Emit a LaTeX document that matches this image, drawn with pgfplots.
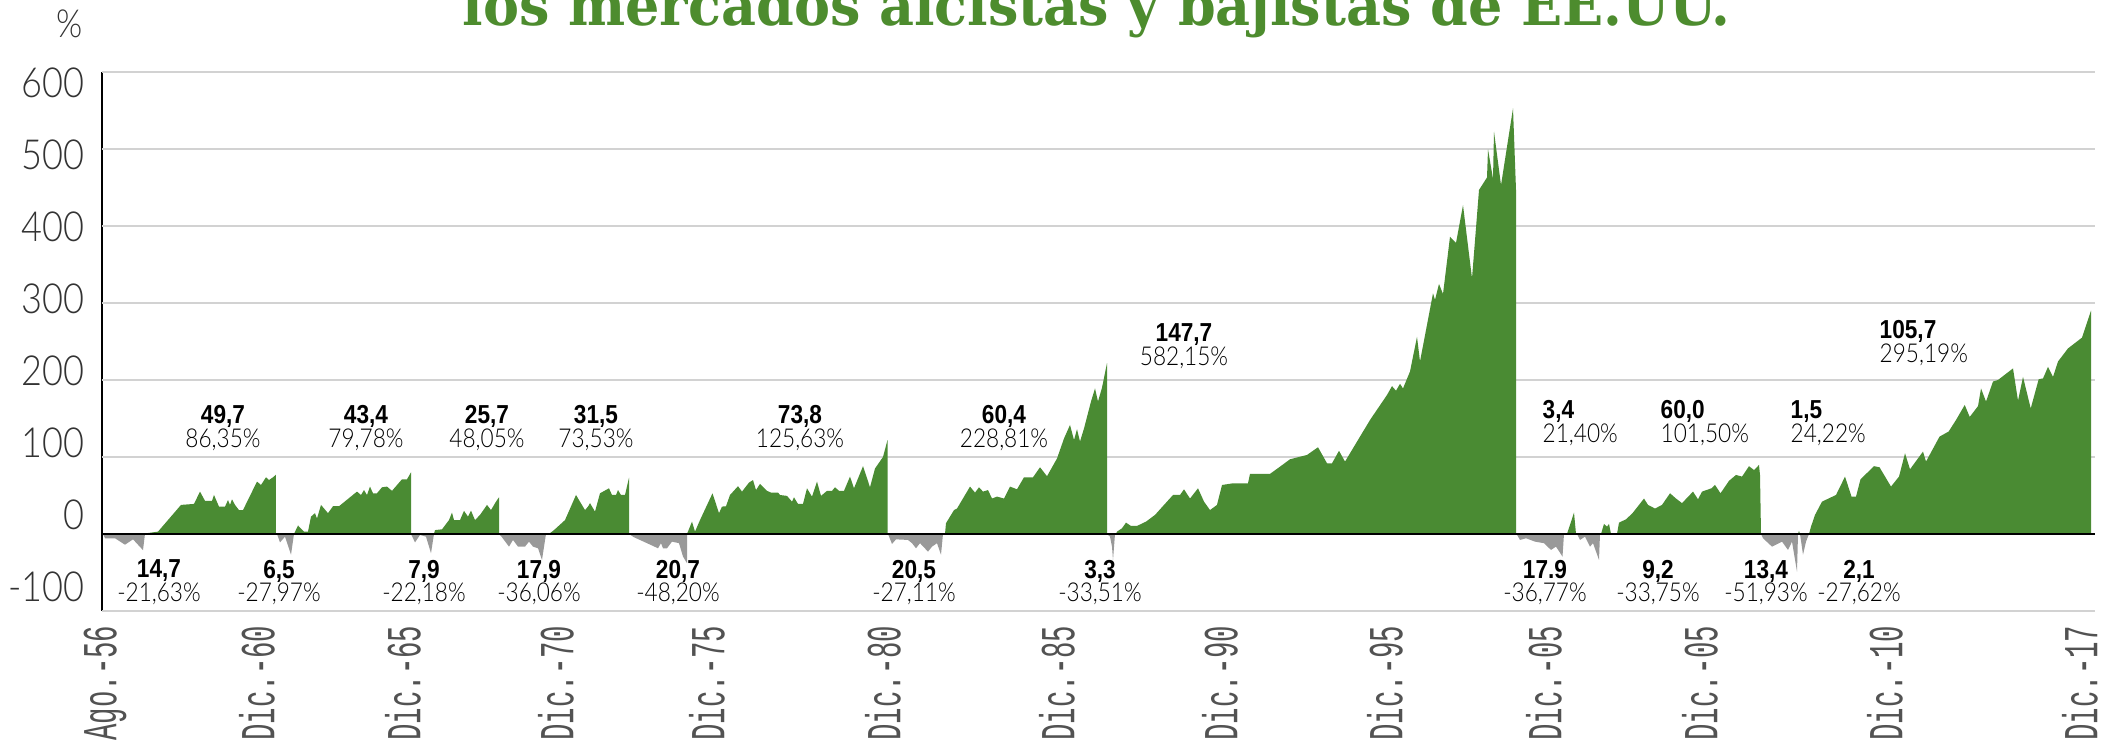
\documentclass[border=0pt]{standalone}
\usepackage{graphicx}
\usepackage{pgfplots}
\pgfplotsset{compat=1.18}
\usepackage{pgfplotstable}
\usepackage{fontspec}
\setmainfont{Liberation Sans}
\newfontfamily\annfont{Liberation Sans}[FakeStretch=0.87]
\newfontfamily\thinfont{Lato Light}[FakeStretch=0.87]
\newfontfamily\xfont{Liberation Mono}[FakeStretch=0.56]
\newfontfamily\titlefont{DejaVu Serif}
\definecolor{bull}{HTML}{4A8B33}
\definecolor{bear}{HTML}{999999}
\definecolor{titlegreen}{HTML}{4D8C2E}
\definecolor{gridgray}{HTML}{D2D2D2}
\newcommand{\ann}[2]{\textbf{#1}\\{\thinfont #2}}
\tikzset{
  ann/.style={anchor=north, align=center, inner sep=0pt,
    font=\annfont\fontsize{7.4}{6.7}\selectfont, text=black},
  annl/.style={anchor=north west, align=left, inner sep=0pt,
    font=\annfont\fontsize{7.4}{6.7}\selectfont, text=black},
}

% bull markets (green), each phase starts and ends at 0
\pgfplotstableread{
x y
145 0
147 1
158 3
181 37.7
194 39
200 55
205 43
212 43
214 50.6
219 35.5
225 35.5
228 44
230 37.7
232 45
235 37.7
239 31
243 31
257 68
261 63.6
266 73.6
269 70
273 73.6
276 77
276 0
294 0
298 11
304 3
308 3
311 22.5
315 27
317 20
321 37.7
328 27
333 36
339 36
357 55
361 50.6
364 57
367 50.6
370 61.5
373 52.8
377 52.8
382 60.6
387 61.5
392 56
402 71
407 71
411 80
411 0
434 0
435 5
442 6
449 18
452 27.7
454 18
460 18
464 30
468 22.5
471 30.3
475 18
480 24.7
487 37.7
491 31
496 42
499 47.6
499 0
549 0
554 5
565 18
576 50.6
585 31
588 35.5
590 40
595 29
600 52.8
609 59.3
612 50.6
616 50.6
618 57
621 50.6
625 50.6
629 73
629 0
687 0
692 16
695 3
700 18
712.5 52.8
719 27
722 35.5
726 36
730 50.6
738 62
742 55
749 66.7
753 70
756 57
760 65
767 56
771 53.7
778 53.7
780 50.6
787 49.4
792 42
794 47.6
798 39
803 39
807 59.3
812 48.5
817 68
821 49.4
827 56
832 56
835 60.6
839 56
844 56
850 74.5
854 59.3
863 88
870 60.6
875 85
883 100
887.5 122
887.5 0
945 0
946 14
954 31
957 33
970 61.5
975 53.7
979 60.6
983 55
988 57
992 46
997 48.5
1004 46
1010 61.5
1017 58
1024 73.6
1033 73.6
1040 86.6
1047 75
1057 98
1064 124
1070 141.6
1074 122
1077 136
1080 120
1084 137
1091 172
1095 189
1098 172
1102 190
1107 222
1107 0
1116 0
1117 3
1122 7.4
1126 14.7
1131 10.4
1137 10.4
1146 16
1155 24.7
1164 37.7
1173 50.6
1180 50.6
1184 58
1190 46
1198 59.3
1204 42
1210 31
1217 37.7
1222 63.6
1233 65.8
1248 65.8
1250 78
1270 78
1280 87.4
1290 97
1307 102.6
1318 112.6
1327 91.8
1332 91.8
1339 108
1345 94
1370 148
1387 180.5
1392 192
1396 186
1400 195
1403 189
1410 211
1417 256
1420 224
1433 312.6
1435 304
1439 324.7
1443 311.7
1450 386
1456 378
1463 427
1472 332
1479 446.8
1487 463
1488 499.6
1493 461
1494 522.5
1501 453
1513 552.8
1516 446.8
1516 0
1565 0
1567 0
1574 27.7
1576 0
1600 0
1601 0
1604 13
1607 9.5
1609 13
1611 0
1617 0
1619 14.7
1626 19
1632.5 27
1644 46
1648 37.7
1655 33
1662 37.7
1670 52.8
1676 46
1682 40
1693 55
1698 45
1702 55
1711.5 59.3
1715 63.6
1720.5 52.8
1729 69
1736 76.6
1742 74.5
1749 88
1754 83
1759 89.6
1760 76.6
1761 0
1798 0
1799 4
1800 0
1809 0
1811 9.5
1815 24.7
1822 42
1836 50.6
1845 74.5
1851.5 48.5
1856 48.5
1860.5 71
1874 88
1879.5 86.6
1891 61.5
1899 74.5
1905 104.8
1910 84
1923 107
1926 94
1939.5 126.4
1948.6 133
1956 148
1964.7 167.5
1969.7 152
1978 166
1981 189
1986 172
1993 198
1998 200
2013 215
2018 173
2023 204
2030.7 163
2038.7 201
2043 202
2048 217
2053 204
2058 224
2068 241
2082 255
2091 290
2091 0
}\bulltable

% bear markets (grey)
\pgfplotstableread{
x y
103 0
105 -5.6
115 -5.6
125 -14
133 -7
143 -21
145 0
277 0
280 -11
285 -3.5
291 -27
294 0
411 0
415 -11
420 -1.3
426 -3.5
431 -25
434 0
499 0
502 -4.3
509 -16.5
513 -7.8
518 -16.5
525 -16.5
529 -10
533 -16.5
538 -18.6
542 -33.8
546 0
629 0
634 -4.3
647 -12
658 -18.6
661 -12
663 -18.6
667 -18.6
672 -10
679 -12
683 -29.4
687 -38
687 0
888 0
892 -13
896 -7
908 -7.8
912 -12
916 -18.6
920 -12
928 -23
932 -16.5
937 -12
941 -27
943 0
1107 0
1110 -3.5
1112 -16.5
1113 -33.8
1115 0
1516.5 0
1520 -7.8
1526 -5.6
1535 -10
1544 -12
1551 -20.8
1556 -16.5
1562.5 -29.4
1564 0
1577 0
1580 -7.8
1585 -3.5
1590 -16.5
1593 -12
1599 -33.8
1600 0
1761 0
1763 -5.6
1772 -16.5
1782 -10
1788 -20.8
1792 -10
1797 -49
1798 0
1800 0
1803 -27
1806 -10
1809 0
}\beartable

\begin{document}
\begin{tikzpicture}
\begin{axis}[
  x=0.1mm, y=0.077mm,
  xmin=102, xmax=2095, ymin=-100, ymax=600,
  axis x line*=bottom, axis y line*=left,
  x axis line style={draw=none},
  y axis line style={black, line width=0.2mm},
  clip=false,
  major tick length=0pt,
  xtick={105,257,403,556,707,883,1057,1220,1385,1544,1700,1885,2080},
  xticklabels={Ago.-56,Dic.-60,Dic.-65,Dic.-70,Dic.-75,Dic.-80,Dic.-85,Dic.-90,Dic.-95,Dic.-05,Dic.-05,Dic.-10,Dic.-17},
  xticklabel style={rotate=90, anchor=east, inner xsep=1.4mm, inner ysep=0pt,
    font=\xfont\fontsize{13.9}{14}\selectfont, text=black!68},
  ytick={585.7,492.2,398.7,305.2,211.7,118.2,24.7,-68.8},
  yticklabels={600,500,400,300,200,100,0,-100},
  yticklabel style={anchor=east, inner xsep=1.7mm, inner ysep=0pt,
    font=\thinfont\fontsize{11.8}{12}\selectfont, text=black!80},
  extra y ticks={-100,100,200,300,400,500,600},
  extra y tick labels={},
  extra y tick style={grid=major},
  major grid style={draw=gridgray, line width=0.23mm},
]
\addplot[fill=bull, draw=none] table[x=x, y=y] {\bulltable};
\addplot[fill=bear, draw=none] table[x=x, y=y] {\beartable};
\addplot[black, line width=0.25mm] coordinates {(102,0) (2095,0)};

% bull annotations
\node[ann] at (axis cs:223,167.5) {\ann{49,7}{86,35\%}};
\node[ann] at (axis cs:366,167.5) {\ann{43,4}{79,78\%}};
\node[ann] at (axis cs:487,167.5) {\ann{25,7}{48,05\%}};
\node[ann] at (axis cs:596,167.5) {\ann{31,5}{73,53\%}};
\node[ann] at (axis cs:800,167.5) {\ann{73,8}{125,63\%}};
\node[ann] at (axis cs:1004,167.5) {\ann{60,4}{228,81\%}};
\node[ann] at (axis cs:1184,274) {\ann{147,7}{582,15\%}};
\node[annl] at (axis cs:1542,174) {\ann{3,4}{21,40\%}};
\node[annl] at (axis cs:1660,174) {\ann{60,0}{101,50\%}};
\node[annl] at (axis cs:1790,174) {\ann{1,5}{24,22\%}};
\node[annl] at (axis cs:1879,278) {\ann{105,7}{295,19\%}};
% bear annotations
\node[ann] at (axis cs:159,-32.9) {\ann{14,7}{-21,63\%}};
\node[ann] at (axis cs:279,-32.9) {\ann{6,5}{-27,97\%}};
\node[ann] at (axis cs:424,-32.9) {\ann{7,9}{-22,18\%}};
\node[ann] at (axis cs:539,-32.9) {\ann{17,9}{-36,06\%}};
\node[ann] at (axis cs:678,-32.9) {\ann{20,7}{-48,20\%}};
\node[ann] at (axis cs:914,-32.9) {\ann{20,5}{-27,11\%}};
\node[ann] at (axis cs:1100,-32.9) {\ann{3,3}{-33,51\%}};
\node[ann] at (axis cs:1545,-32.9) {\ann{17.9}{-36,77\%}};
\node[ann] at (axis cs:1658,-32.9) {\ann{9,2}{-33,75\%}};
\node[ann] at (axis cs:1766,-32.9) {\ann{13,4}{-51,93\%}};
\node[ann] at (axis cs:1859,-32.9) {\ann{2,1}{-27,62\%}};

% unit and title
\node[inner sep=0pt, font=\thinfont\fontsize{11}{12}\selectfont, text=black!80] at (axis cs:70,662.3) {\%};
\node[anchor=base west, inner sep=0pt, text=titlegreen,
  font=\titlefont\bfseries\fontsize{16}{18}\selectfont] at (axis cs:462,661)
  {\resizebox{126.8mm}{\height}{los mercados alcistas y bajistas de EE.UU.}};

\coordinate (bbsw) at (axis cs:0,-281.8);
\coordinate (bbne) at (axis cs:2108,693.5);
\end{axis}
\pgfresetboundingbox
\useasboundingbox (bbsw) rectangle (bbne);
\end{tikzpicture}
\end{document}
